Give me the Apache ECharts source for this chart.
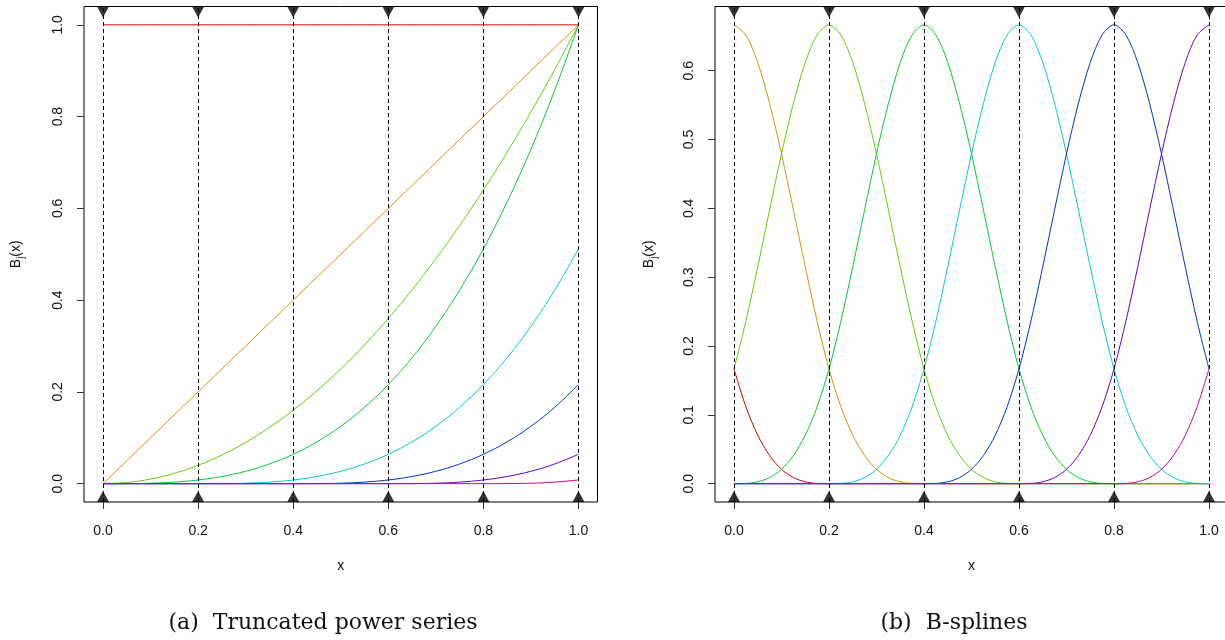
<!DOCTYPE html>
<html>
<head>
<meta charset="utf-8">
<script src="https://cdn.jsdelivr.net/npm/echarts@6/dist/echarts.min.js"></script>
<style>html,body{margin:0;padding:0;background:#fff}#c{width:1225px;height:640px}</style>
</head>
<body>
<div id="c"></div>
<script>
// ---- data ----
const xsA = [0,0.05,0.1,0.15,0.2,0.25,0.3,0.35,0.4,0.45,0.5,0.55,0.6,0.65,0.7,0.75,0.8,0.85,0.9,0.95,1];
const xsB = [0,0.025,0.05,0.075,0.1,0.125,0.15,0.175,0.2,0.225,0.25,0.275,0.3,0.325,0.35,0.375,0.4,0.425,0.45,0.475,0.5,
             0.525,0.55,0.575,0.6,0.625,0.65,0.675,0.7,0.725,0.75,0.775,0.8,0.825,0.85,0.875,0.9,0.925,0.95,0.975,1];
const knots = [0,0.2,0.4,0.6,0.8,1.0];
const xTicks = [0,0.2,0.4,0.6,0.8,1.0];
const yTicksA = [0,0.2,0.4,0.6,0.8,1.0];
const yTicksB = [0,0.1,0.2,0.3,0.4,0.5,0.6];
const captionA = '(a)  Truncated power series';
const captionB = '(b)  B-splines';
const xName = 'x';

// truncated power series basis values (at xsA)
const tp1 = [1,1,1,1,1,1,1,1,1,1,1,1,1,1,1,1,1,1,1,1,1];
const tpX = [0,0.05,0.1,0.15,0.2,0.25,0.3,0.35,0.4,0.45,0.5,0.55,0.6,0.65,0.7,0.75,0.8,0.85,0.9,0.95,1];
const tpX2 = [0,0.0025,0.01,0.0225,0.04,0.0625,0.09,0.1225,0.16,0.2025,0.25,0.3025,0.36,0.4225,0.49,0.5625,0.64,0.7225,0.81,0.9025,1];
const tpX3 = [0,0.000125,0.001,0.003375,0.008,0.015625,0.027,0.042875,0.064,0.091125,0.125,0.166375,0.216,0.274625,0.343,0.421875,0.512,0.614125,0.729,0.857375,1];
const tpK1 = [0,0,0,0,0,0.000125,0.001,0.003375,0.008,0.015625,0.027,0.042875,0.064,0.091125,0.125,0.166375,0.216,0.274625,0.343,0.421875,0.512];
const tpK2 = [0,0,0,0,0,0,0,0,0,0.000125,0.001,0.003375,0.008,0.015625,0.027,0.042875,0.064,0.091125,0.125,0.166375,0.216];
const tpK3 = [0,0,0,0,0,0,0,0,0,0,0,0,0,0.000125,0.001,0.003375,0.008,0.015625,0.027,0.042875,0.064];
const tpK4 = [0,0,0,0,0,0,0,0,0,0,0,0,0,0,0,0,0,0.000125,0.001,0.003375,0.008];

// B-spline basis values (at xsB)
const bs1 = [0.1667,0.1117,0.0703,0.0407,0.0208,0.0088,0.0026,0.0003,0,0,0,0,0,0,0,0,0,0,0,0,0,0,0,0,0,0,0,0,0,0,0,0,0,0,0,0,0,0,0,0,0];
const bs2 = [0.6667,0.6520,0.6120,0.5524,0.4792,0.3981,0.3151,0.2360,0.1667,0.1117,0.0703,0.0407,0.0208,0.0088,0.0026,0.0003,0,
             0,0,0,0,0,0,0,0,0,0,0,0,0,0,0,0,0,0,0,0,0,0,0,0];
const bs3 = [0.1667,0.2360,0.3151,0.3981,0.4792,0.5524,0.6120,0.6520,0.6667,0.6520,0.6120,0.5524,0.4792,0.3981,0.3151,0.2360,0.1667,
             0.1117,0.0703,0.0407,0.0208,0.0088,0.0026,0.0003,0,0,0,0,0,0,0,0,0,0,0,0,0,0,0,0,0];
const bs4 = [0,0.0003,0.0026,0.0088,0.0208,0.0407,0.0703,0.1117,0.1667,0.2360,0.3151,0.3981,0.4792,0.5524,0.6120,0.6520,0.6667,
             0.6520,0.6120,0.5524,0.4792,0.3981,0.3151,0.2360,0.1667,0.1117,0.0703,0.0407,0.0208,0.0088,0.0026,0.0003,0,0,0,0,0,0,0,0,0];
const bs5 = [0,0,0,0,0,0,0,0,0,0.0003,0.0026,0.0088,0.0208,0.0407,0.0703,0.1117,0.1667,0.2360,0.3151,0.3981,0.4792,0.5524,0.6120,0.6520,0.6667,
             0.6520,0.6120,0.5524,0.4792,0.3981,0.3151,0.2360,0.1667,0.1117,0.0703,0.0407,0.0208,0.0088,0.0026,0.0003,0];
const bs6 = [0,0,0,0,0,0,0,0,0,0,0,0,0,0,0,0,0,0.0003,0.0026,0.0088,0.0208,0.0407,0.0703,0.1117,0.1667,0.2360,0.3151,0.3981,0.4792,0.5524,0.6120,0.6520,0.6667,
             0.6520,0.6120,0.5524,0.4792,0.3981,0.3151,0.2360,0.1667];
const bs7 = [0,0,0,0,0,0,0,0,0,0,0,0,0,0,0,0,0,0,0,0,0,0,0,0,0,0.0003,0.0026,0.0088,0.0208,0.0407,0.0703,0.1117,0.1667,0.2360,0.3151,0.3981,0.4792,0.5524,0.6120,0.6520,0.6667];
const bs8 = [0,0,0,0,0,0,0,0,0,0,0,0,0,0,0,0,0,0,0,0,0,0,0,0,0,0,0,0,0,0,0,0,0,0.0003,0.0026,0.0088,0.0208,0.0407,0.0703,0.1117,0.1667];

const seriesA = [tp1,tpX,tpX2,tpX3,tpK1,tpK2,tpK3,tpK4];
const seriesB = [bs1,bs2,bs3,bs4,bs5,bs6,bs7,bs8];
const colors = ['#CC0000','#CC9900','#66CC00','#00CC33','#00CCCC','#0033CC','#6600CC','#CC0099'];

// ---- chart ----
const chart = echarts.init(document.getElementById('c'), null, {renderer:'canvas'});
const FONT = '"Liberation Sans", Arial, sans-serif';
const SERIF = '"DejaVu Serif", "Liberation Serif", serif';

function xAxisCfg(gi){
  return {
    gridIndex: gi, type:'value', min:-0.04, max:1.04, position:'bottom',
    axisLine:{show:false, onZero:false},
    splitLine:{show:false},
    axisTick:{show:true, customValues:xTicks, length:7, inside:false, lineStyle:{color:'#333', width:1}},
    axisLabel:{show:true, customValues:xTicks, formatter:v=>v.toFixed(1), margin:22, fontFamily:FONT, fontSize:14, color:'#111'},
    name:xName, nameLocation:'middle', nameGap:57,
    nameTextStyle:{fontFamily:FONT, fontSize:14, color:'#111'}
  };
}
function yAxisCfg(gi, lo, hi, ticks, gap){
  return {
    gridIndex: gi, type:'value', min:lo, max:hi, position:'left',
    axisLine:{show:false, onZero:false},
    splitLine:{show:false},
    axisTick:{show:true, customValues:ticks, length:7, inside:false, lineStyle:{color:'#333', width:1}},
    axisLabel:{show:true, customValues:ticks, formatter:v=>v.toFixed(1), rotate:90, margin:19, fontFamily:FONT, fontSize:14, color:'#111'},
    name:'{b|B}{s|j}{b|(x)}', nameLocation:'middle', nameGap:gap, nameRotate:90,
    nameTextStyle:{fontFamily:FONT, color:'#111', rich:{
      b:{fontFamily:FONT, fontSize:14, color:'#111', lineHeight:20, verticalAlign:'middle'},
      s:{fontFamily:FONT, fontSize:10, color:'#111', lineHeight:20, verticalAlign:'bottom'}
    }}
  };
}

const series = [];
function addPanel(gi, xs, arrs, lo, hi, sm){
  arrs.forEach((arr, i) => {
    series.push({
      type:'line', xAxisIndex:gi, yAxisIndex:gi, smooth:sm, showSymbol:false, symbol:'none',
      lineStyle:{color:colors[i], width:1}, itemStyle:{color:colors[i]},
      data: xs.map((x,k)=>[x, arr[k]]), z:3, animation:false, clip:true
    });
  });
  series.push({
    type:'line', xAxisIndex:gi, yAxisIndex:gi, data:[], animation:false,
    markLine:{silent:true, symbol:['none','none'], label:{show:false},
      lineStyle:{color:'#000', type:[4,3], width:1},
      data: knots.map(k=>({xAxis:k}))}
  });
  series.push({
    type:'scatter', xAxisIndex:gi, yAxisIndex:gi, animation:false, clip:false,
    symbol:'path://M1,0 L2,2 L0,2 Z', symbolSize:[12,11], symbolOffset:[0,-5.5],
    itemStyle:{color:'#000'}, data: knots.map(k=>[k, lo]), z:5
  });
  series.push({
    type:'scatter', xAxisIndex:gi, yAxisIndex:gi, animation:false, clip:false,
    symbol:'path://M0,0 L2,0 L1,2 Z', symbolSize:[12,11], symbolOffset:[0,5.5],
    itemStyle:{color:'#000'}, data: knots.map(k=>[k, hi]), z:5
  });
}
const loA=-0.04, hiA=1.04, loB=-0.026667, hiB=0.693333;
addPanel(0, xsA, seriesA, loA, hiA, 0.4);
addPanel(1, xsB, seriesB, loB, hiB, 0.3);

chart.setOption({
  animation:false,
  backgroundColor:'#fff',
  grid:[
    {left:84, top:6.5, width:513.5, height:495.5, show:true, borderColor:'#000', borderWidth:1, backgroundColor:'transparent', outerBoundsMode:'none', containLabel:false},
    {left:715, top:6.5, width:513, height:495.5, show:true, borderColor:'#000', borderWidth:1, backgroundColor:'transparent', outerBoundsMode:'none', containLabel:false}
  ],
  xAxis:[xAxisCfg(0), xAxisCfg(1)],
  yAxis:[yAxisCfg(0, loA, hiA, yTicksA, 58), yAxisCfg(1, loB, hiB, yTicksB, 56)],
  series: series,
  graphic:[
    {type:'text', style:{text:captionA, x:323, y:623, align:'center', verticalAlign:'middle', font:'22px '+SERIF, fill:'#111'}},
    {type:'text', style:{text:captionB, x:954, y:623, align:'center', verticalAlign:'middle', font:'22px '+SERIF, fill:'#111'}}
  ]
});
</script>
</body>
</html>
